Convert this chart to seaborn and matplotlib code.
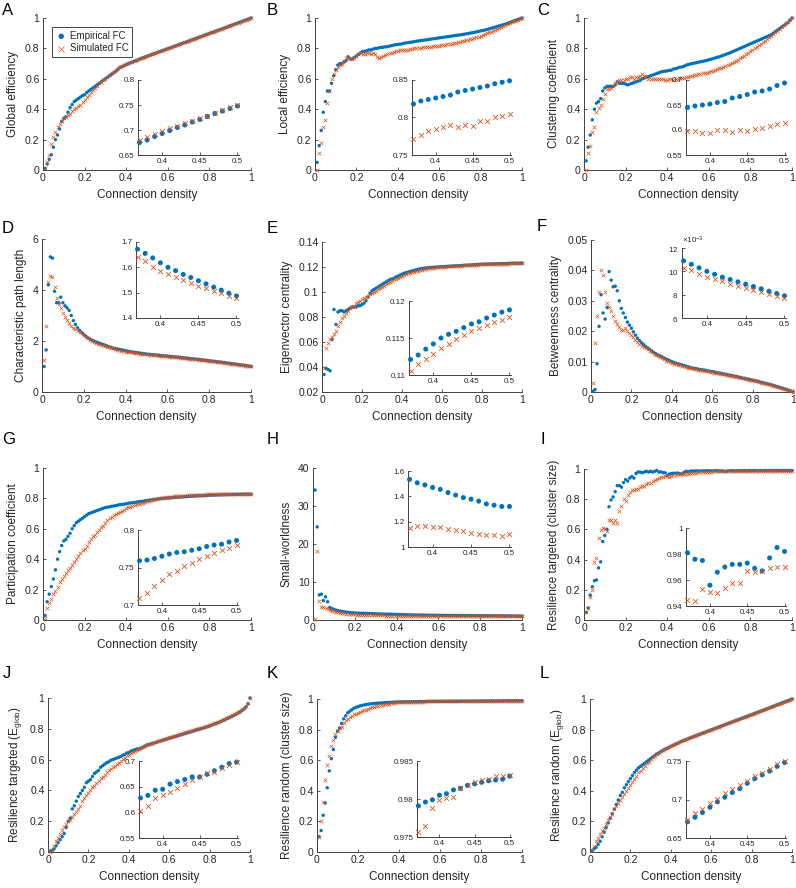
import numpy as np
import seaborn as sns
import matplotlib.pyplot as plt
from matplotlib.ticker import FuncFormatter, ScalarFormatter

sns.set_style('ticks')
plt.rcParams['font.family'] = ['Liberation Sans', 'DejaVu Sans']
plt.rcParams['mathtext.default'] = 'regular'

# connection density grid (0.01 ... 1.00)
density = np.arange(1, 101) / 100

# A - global efficiency
glob_eff_emp = [
    0.01, 0.04, 0.07, 0.10, 0.15, 0.20, 0.23, 0.27, 0.32, 0.34,
    0.35, 0.38, 0.41, 0.43, 0.45, 0.46, 0.47, 0.48, 0.49, 0.495,
    0.51, 0.52, 0.53, 0.54, 0.55, 0.56, 0.57, 0.58, 0.59, 0.60,
    0.61, 0.62, 0.63, 0.64, 0.65, 0.662, 0.675, 0.680, 0.687, 0.693,
    0.699, 0.705, 0.710, 0.716, 0.721, 0.727, 0.733, 0.738, 0.743, 0.748,
    0.753, 0.758, 0.763, 0.768, 0.773, 0.778, 0.783, 0.788, 0.793, 0.798,
    0.803, 0.808, 0.813, 0.818, 0.823, 0.828, 0.833, 0.838, 0.843, 0.848,
    0.853, 0.858, 0.863, 0.868, 0.873, 0.878, 0.883, 0.888, 0.893, 0.898,
    0.903, 0.908, 0.913, 0.918, 0.923, 0.928, 0.933, 0.938, 0.943, 0.949,
    0.954, 0.959, 0.964, 0.969, 0.974, 0.979, 0.984, 0.989, 0.994, 1.000]
glob_eff_sim = [
    0.01, 0.05, 0.10, 0.17, 0.22, 0.25, 0.28, 0.30, 0.32, 0.34,
    0.35, 0.36, 0.37, 0.39, 0.40, 0.41, 0.42, 0.43, 0.445, 0.46,
    0.48, 0.495, 0.51, 0.525, 0.54, 0.555, 0.57, 0.58, 0.59, 0.60,
    0.612, 0.624, 0.636, 0.648, 0.658, 0.668, 0.680, 0.686, 0.692, 0.698,
    0.703, 0.708, 0.713, 0.718, 0.723, 0.728, 0.734, 0.740, 0.745, 0.750,
    0.755, 0.760, 0.765, 0.770, 0.775, 0.780, 0.785, 0.790, 0.795, 0.800,
    0.805, 0.810, 0.815, 0.820, 0.825, 0.830, 0.835, 0.840, 0.845, 0.850,
    0.855, 0.860, 0.865, 0.870, 0.875, 0.880, 0.885, 0.890, 0.895, 0.900,
    0.905, 0.910, 0.915, 0.920, 0.925, 0.930, 0.935, 0.940, 0.945, 0.950,
    0.955, 0.960, 0.965, 0.970, 0.975, 0.980, 0.985, 0.990, 0.995, 1.000]

# B - local efficiency
loc_eff_emp = [
    0.05, 0.16, 0.26, 0.38, 0.45, 0.52, 0.52, 0.57, 0.62, 0.66,
    0.69, 0.70, 0.70, 0.71, 0.72, 0.745, 0.73, 0.73, 0.74, 0.75,
    0.76, 0.77, 0.78, 0.78, 0.785, 0.79, 0.79, 0.795, 0.80, 0.80,
    0.805, 0.806, 0.808, 0.810, 0.812, 0.815, 0.818, 0.822, 0.824, 0.826,
    0.828, 0.830, 0.834, 0.836, 0.838, 0.840, 0.842, 0.845, 0.847, 0.849,
    0.851, 0.853, 0.855, 0.857, 0.859, 0.861, 0.863, 0.865, 0.867, 0.869,
    0.871, 0.873, 0.875, 0.877, 0.879, 0.881, 0.883, 0.885, 0.887, 0.889,
    0.891, 0.893, 0.896, 0.898, 0.901, 0.903, 0.906, 0.909, 0.912, 0.915,
    0.918, 0.921, 0.924, 0.928, 0.932, 0.936, 0.940, 0.944, 0.948, 0.952,
    0.956, 0.960, 0.965, 0.970, 0.975, 0.980, 0.985, 0.990, 0.995, 1.000]
loc_eff_sim = [
    0.00, 0.11, 0.18, 0.28, 0.33, 0.44, 0.52, 0.60, 0.63, 0.66,
    0.68, 0.69, 0.70, 0.72, 0.74, 0.74, 0.74, 0.73, 0.74, 0.75,
    0.76, 0.77, 0.76, 0.76, 0.77, 0.77, 0.76, 0.77, 0.76, 0.745,
    0.74, 0.745, 0.75, 0.758, 0.762, 0.767, 0.771, 0.776, 0.782, 0.785,
    0.787, 0.790, 0.787, 0.790, 0.789, 0.795, 0.795, 0.800, 0.802, 0.804,
    0.805, 0.806, 0.808, 0.809, 0.811, 0.812, 0.814, 0.815, 0.817, 0.819,
    0.821, 0.823, 0.825, 0.827, 0.829, 0.832, 0.835, 0.838, 0.841, 0.844,
    0.847, 0.850, 0.853, 0.857, 0.861, 0.865, 0.869, 0.873, 0.877, 0.881,
    0.887, 0.893, 0.899, 0.905, 0.911, 0.917, 0.923, 0.929, 0.935, 0.941,
    0.947, 0.953, 0.959, 0.965, 0.971, 0.977, 0.983, 0.989, 0.995, 1.000]

# C - clustering coefficient
clust_emp = [
    0.06, 0.15, 0.23, 0.33, 0.40, 0.44, 0.45, 0.47, 0.52, 0.54,
    0.55, 0.55, 0.55, 0.55, 0.56, 0.58, 0.57, 0.57, 0.57, 0.565,
    0.56, 0.565, 0.57, 0.575, 0.58, 0.585, 0.59, 0.60, 0.605, 0.61,
    0.615, 0.62, 0.625, 0.63, 0.635, 0.64, 0.645, 0.648, 0.650, 0.652,
    0.655, 0.657, 0.664, 0.667, 0.671, 0.676, 0.678, 0.682, 0.689, 0.694,
    0.697, 0.700, 0.703, 0.706, 0.709, 0.712, 0.715, 0.718, 0.721, 0.725,
    0.729, 0.733, 0.737, 0.741, 0.745, 0.750, 0.755, 0.760, 0.765, 0.770,
    0.776, 0.782, 0.788, 0.794, 0.800, 0.806, 0.812, 0.818, 0.824, 0.830,
    0.836, 0.842, 0.848, 0.854, 0.860, 0.866, 0.872, 0.878, 0.884, 0.890,
    0.900, 0.910, 0.920, 0.930, 0.940, 0.950, 0.960, 0.970, 0.985, 1.000]
clust_sim = [
    0.00, 0.11, 0.16, 0.25, 0.28, 0.38, 0.41, 0.43, 0.47, 0.50,
    0.53, 0.53, 0.54, 0.55, 0.57, 0.58, 0.59, 0.59, 0.59, 0.60,
    0.60, 0.61, 0.61, 0.60, 0.61, 0.61, 0.62, 0.63, 0.62, 0.61,
    0.60, 0.60, 0.60, 0.60, 0.60, 0.60, 0.597, 0.598, 0.594, 0.594,
    0.599, 0.600, 0.595, 0.600, 0.598, 0.602, 0.604, 0.608, 0.611, 0.614,
    0.617, 0.620, 0.623, 0.626, 0.629, 0.632, 0.635, 0.638, 0.641, 0.645,
    0.649, 0.653, 0.658, 0.663, 0.668, 0.673, 0.678, 0.684, 0.690, 0.696,
    0.703, 0.710, 0.718, 0.726, 0.734, 0.742, 0.750, 0.760, 0.770, 0.780,
    0.790, 0.800, 0.810, 0.820, 0.830, 0.840, 0.851, 0.862, 0.873, 0.884,
    0.895, 0.906, 0.917, 0.928, 0.940, 0.952, 0.964, 0.976, 0.988, 1.000]

# D - characteristic path length
path_emp = [
    1.00, 1.65, 4.20, 5.30, 5.25, 3.95, 3.50, 3.50, 3.72, 3.50,
    3.38, 3.30, 3.20, 3.00, 2.80, 2.65, 2.52, 2.42, 2.33, 2.25,
    2.18, 2.12, 2.07, 2.03, 1.99, 1.96, 1.93, 1.90, 1.87, 1.84,
    1.81, 1.78, 1.75, 1.72, 1.70, 1.69, 1.672, 1.655, 1.637, 1.618,
    1.600, 1.587, 1.572, 1.560, 1.547, 1.535, 1.522, 1.510, 1.498, 1.487,
    1.478, 1.470, 1.462, 1.454, 1.446, 1.438, 1.430, 1.422, 1.414, 1.406,
    1.398, 1.390, 1.382, 1.374, 1.365, 1.356, 1.347, 1.338, 1.329, 1.320,
    1.311, 1.302, 1.293, 1.284, 1.275, 1.265, 1.255, 1.245, 1.235, 1.225,
    1.215, 1.205, 1.195, 1.185, 1.175, 1.164, 1.153, 1.142, 1.131, 1.120,
    1.109, 1.098, 1.087, 1.076, 1.065, 1.054, 1.043, 1.032, 1.016, 1.000]
path_sim = [
    1.25, 2.60, 4.30, 4.55, 4.50, 4.10, 3.70, 3.45, 3.30, 3.10,
    2.95, 2.82, 2.70, 2.60, 2.52, 2.46, 2.40, 2.35, 2.30, 2.24,
    2.16, 2.10, 2.04, 1.99, 1.95, 1.92, 1.89, 1.86, 1.83, 1.80,
    1.77, 1.75, 1.73, 1.71, 1.68, 1.66, 1.640, 1.624, 1.603, 1.587,
    1.574, 1.562, 1.550, 1.540, 1.528, 1.518, 1.507, 1.497, 1.487, 1.478,
    1.470, 1.462, 1.454, 1.446, 1.438, 1.430, 1.422, 1.414, 1.406, 1.398,
    1.390, 1.382, 1.374, 1.366, 1.358, 1.349, 1.340, 1.331, 1.322, 1.313,
    1.304, 1.295, 1.286, 1.277, 1.268, 1.258, 1.248, 1.238, 1.228, 1.218,
    1.208, 1.198, 1.188, 1.178, 1.168, 1.158, 1.147, 1.136, 1.125, 1.114,
    1.103, 1.092, 1.081, 1.070, 1.059, 1.048, 1.037, 1.026, 1.013, 1.000]

# E - eigenvector centrality
eig_emp = [
    0.034, 0.039, 0.038, 0.037, 0.062, 0.086, 0.074, 0.084, 0.085, 0.085,
    0.084, 0.085, 0.086, 0.087, 0.088, 0.088, 0.088, 0.089, 0.089, 0.090,
    0.091, 0.093, 0.096, 0.099, 0.101, 0.102, 0.103, 0.104, 0.105, 0.106,
    0.107, 0.108, 0.109, 0.110, 0.1105, 0.111, 0.1121, 0.1127, 0.1135, 0.1142,
    0.1150, 0.1155, 0.1159, 0.1164, 0.1169, 0.1172, 0.1177, 0.1181, 0.1185, 0.1188,
    0.1190, 0.1192, 0.1194, 0.1196, 0.1197, 0.1198, 0.1199, 0.1200, 0.1201, 0.1202,
    0.1203, 0.1204, 0.1205, 0.1206, 0.1207, 0.1208, 0.1209, 0.1210, 0.1211, 0.1212,
    0.1213, 0.1214, 0.1215, 0.1216, 0.1217, 0.1218, 0.1219, 0.1220, 0.1221, 0.1222,
    0.1222, 0.1223, 0.1223, 0.1224, 0.1224, 0.1225, 0.1225, 0.1226, 0.1226, 0.1227,
    0.1227, 0.1228, 0.1228, 0.1229, 0.1229, 0.1230, 0.1230, 0.1230, 0.1231, 0.1231]
eig_sim = [
    0.039, 0.055, 0.059, 0.062, 0.064, 0.066, 0.069, 0.073, 0.076, 0.079,
    0.081, 0.083, 0.085, 0.087, 0.088, 0.089, 0.091, 0.092, 0.093, 0.094,
    0.095, 0.096, 0.097, 0.098, 0.099, 0.100, 0.101, 0.102, 0.103, 0.104,
    0.105, 0.106, 0.107, 0.108, 0.109, 0.110, 0.1106, 0.1115, 0.1122, 0.1129,
    0.1137, 0.1142, 0.1148, 0.1154, 0.1159, 0.1163, 0.1167, 0.1171, 0.1175, 0.1179,
    0.1183, 0.1186, 0.1189, 0.1191, 0.1193, 0.1195, 0.1197, 0.1198, 0.1199, 0.1200,
    0.1202, 0.1203, 0.1204, 0.1205, 0.1206, 0.1207, 0.1208, 0.1209, 0.1210, 0.1211,
    0.1212, 0.1213, 0.1214, 0.1215, 0.1216, 0.1217, 0.1218, 0.1219, 0.1220, 0.1221,
    0.1221, 0.1222, 0.1222, 0.1223, 0.1223, 0.1224, 0.1224, 0.1225, 0.1225, 0.1226,
    0.1226, 0.1227, 0.1227, 0.1228, 0.1228, 0.1229, 0.1229, 0.1230, 0.1230, 0.1231]

# F - betweenness centrality
betw_emp = [
    0.0002, 0.0008, 0.0093, 0.0216, 0.0320, 0.0260, 0.0240, 0.0278, 0.0396, 0.0368,
    0.0346, 0.0348, 0.0333, 0.0300, 0.0275, 0.0260, 0.0245, 0.0230, 0.0220, 0.0210,
    0.0198, 0.0187, 0.0177, 0.0169, 0.0162, 0.0156, 0.0150, 0.0145, 0.0140, 0.0135,
    0.0130, 0.0126, 0.0122, 0.0119, 0.0116, 0.0112, 0.0109, 0.0106, 0.0103, 0.0100,
    0.00975, 0.0095, 0.0093, 0.0091, 0.0089, 0.0087, 0.0085, 0.0083, 0.0081, 0.0079,
    0.0078, 0.0077, 0.0075, 0.0074, 0.0073, 0.0072, 0.0071, 0.0069, 0.0068, 0.0067,
    0.0066, 0.0064, 0.0063, 0.0062, 0.0060, 0.0059, 0.0058, 0.0056, 0.0055, 0.0054,
    0.0052, 0.0051, 0.0049, 0.0048, 0.0046, 0.0045, 0.0043, 0.0042, 0.0040, 0.0039,
    0.0037, 0.0036, 0.0034, 0.0032, 0.0031, 0.0029, 0.0027, 0.0026, 0.0024, 0.0022,
    0.0020, 0.0018, 0.0016, 0.0014, 0.0012, 0.0010, 0.0008, 0.0005, 0.0003, 0.0000]
betw_sim = [
    0.0030, 0.0160, 0.0250, 0.0330, 0.0402, 0.0385, 0.0330, 0.0292, 0.0280, 0.0268,
    0.0250, 0.0235, 0.0225, 0.0215, 0.0205, 0.0205, 0.0210, 0.0200, 0.0195, 0.0188,
    0.0180, 0.0172, 0.0164, 0.0157, 0.0151, 0.0147, 0.0144, 0.0140, 0.0135, 0.0130,
    0.0125, 0.0121, 0.0117, 0.0114, 0.0111, 0.0107, 0.0103, 0.0101, 0.0098, 0.00955,
    0.00935, 0.00915, 0.00895, 0.00875, 0.00855, 0.0084, 0.0082, 0.00805, 0.0079, 0.00775,
    0.0076, 0.0075, 0.0074, 0.0072, 0.0071, 0.0070, 0.0069, 0.0068, 0.0067, 0.0065,
    0.0064, 0.0063, 0.0062, 0.0060, 0.0059, 0.0058, 0.0056, 0.0055, 0.0054, 0.0052,
    0.0051, 0.0050, 0.0048, 0.0047, 0.0045, 0.0044, 0.0042, 0.0041, 0.0039, 0.0038,
    0.0036, 0.0035, 0.0033, 0.0031, 0.0030, 0.0028, 0.0026, 0.0025, 0.0023, 0.0021,
    0.0019, 0.0017, 0.0015, 0.0013, 0.0011, 0.0009, 0.0007, 0.0005, 0.0003, 0.0000]

# G - participation coefficient
part_emp = [
    0.03, 0.12, 0.17, 0.22, 0.27, 0.33, 0.40, 0.45, 0.49, 0.52,
    0.53, 0.55, 0.57, 0.60, 0.62, 0.64, 0.65, 0.66, 0.67, 0.68,
    0.69, 0.70, 0.705, 0.71, 0.715, 0.72, 0.725, 0.73, 0.735, 0.74,
    0.742, 0.745, 0.748, 0.750, 0.753, 0.756, 0.759, 0.760, 0.762, 0.765,
    0.768, 0.770, 0.771, 0.773, 0.775, 0.778, 0.780, 0.781, 0.784, 0.786,
    0.788, 0.790, 0.792, 0.794, 0.796, 0.798, 0.800, 0.801, 0.802, 0.803,
    0.804, 0.805, 0.806, 0.807, 0.808, 0.809, 0.810, 0.811, 0.812, 0.813,
    0.814, 0.815, 0.816, 0.817, 0.818, 0.818, 0.819, 0.820, 0.820, 0.821,
    0.821, 0.822, 0.822, 0.823, 0.823, 0.824, 0.824, 0.825, 0.825, 0.826,
    0.826, 0.826, 0.827, 0.827, 0.827, 0.828, 0.828, 0.828, 0.828, 0.828]
part_sim = [
    0.01, 0.08, 0.11, 0.14, 0.17, 0.19, 0.22, 0.25, 0.27, 0.29,
    0.31, 0.33, 0.34, 0.36, 0.38, 0.40, 0.42, 0.44, 0.46, 0.47,
    0.49, 0.51, 0.53, 0.55, 0.56, 0.58, 0.59, 0.61, 0.62, 0.64,
    0.66, 0.67, 0.68, 0.69, 0.70, 0.705, 0.709, 0.716, 0.726, 0.734,
    0.741, 0.746, 0.752, 0.756, 0.761, 0.766, 0.770, 0.773, 0.776, 0.780,
    0.784, 0.788, 0.792, 0.795, 0.798, 0.801, 0.803, 0.805, 0.807, 0.809,
    0.811, 0.812, 0.814, 0.815, 0.816, 0.817, 0.818, 0.819, 0.820, 0.821,
    0.822, 0.822, 0.823, 0.823, 0.824, 0.824, 0.825, 0.825, 0.826, 0.826,
    0.826, 0.827, 0.827, 0.827, 0.827, 0.828, 0.828, 0.828, 0.828, 0.828,
    0.828, 0.828, 0.828, 0.828, 0.828, 0.828, 0.828, 0.828, 0.828, 0.828]

# H - small-worldness
sw_emp = [
    34.2, 24.5, 6.6, 6.8, 5.1, 6.1, 4.8, 3.3, 3.0, 2.8,
    2.6, 2.45, 2.35, 2.25, 2.15, 2.07, 2.0, 1.95, 1.9, 1.86,
    1.83, 1.80, 1.78, 1.76, 1.74, 1.72, 1.70, 1.68, 1.66, 1.64,
    1.62, 1.60, 1.58, 1.565, 1.55, 1.54, 1.534, 1.507, 1.49, 1.47,
    1.455, 1.43, 1.41, 1.39, 1.378, 1.362, 1.34, 1.33, 1.32, 1.32,
    1.31, 1.30, 1.29, 1.28, 1.27, 1.26, 1.25, 1.24, 1.235, 1.23,
    1.225, 1.22, 1.215, 1.21, 1.205, 1.20, 1.195, 1.19, 1.185, 1.18,
    1.175, 1.17, 1.165, 1.16, 1.155, 1.15, 1.145, 1.14, 1.135, 1.13,
    1.125, 1.12, 1.115, 1.11, 1.105, 1.10, 1.095, 1.09, 1.085, 1.08,
    1.075, 1.07, 1.065, 1.06, 1.055, 1.05, 1.04, 1.03, 1.02, 1.00]
sw_sim = [
    0.2, 18.2, 5.1, 3.5, 3.3, 3.2, 3.0, 2.7, 2.5, 2.3,
    2.15, 2.0, 1.9, 1.8, 1.72, 1.65, 1.6, 1.55, 1.5, 1.46,
    1.43, 1.40, 1.38, 1.36, 1.34, 1.32, 1.30, 1.28, 1.26, 1.24,
    1.22, 1.21, 1.20, 1.19, 1.18, 1.17, 1.153, 1.164, 1.164, 1.158,
    1.158, 1.143, 1.132, 1.124, 1.114, 1.103, 1.093, 1.093, 1.090, 1.103,
    1.09, 1.085, 1.08, 1.08, 1.075, 1.07, 1.07, 1.065, 1.06, 1.06,
    1.055, 1.055, 1.05, 1.05, 1.045, 1.045, 1.04, 1.04, 1.04, 1.035,
    1.035, 1.03, 1.03, 1.03, 1.025, 1.025, 1.025, 1.02, 1.02, 1.02,
    1.02, 1.015, 1.015, 1.015, 1.01, 1.01, 1.01, 1.01, 1.005, 1.005,
    1.005, 1.005, 1.0, 1.0, 1.0, 1.0, 1.0, 1.0, 1.0, 1.0]

# I - resilience targeted (cluster size)
res_targ_cs_emp = [
    0.05, 0.08, 0.165, 0.22, 0.26, 0.265, 0.345, 0.385, 0.52, 0.56,
    0.60, 0.75, 0.795, 0.815, 0.85, 0.89, 0.89, 0.88, 0.91, 0.93,
    0.92, 0.94, 0.95, 0.94, 0.97, 0.98, 0.98, 0.975, 0.98, 0.985,
    0.98, 0.985, 0.98, 0.985, 0.99, 0.98, 0.981, 0.976, 0.975, 0.956,
    0.966, 0.970, 0.972, 0.972, 0.973, 0.969, 0.967, 0.977, 0.985, 0.982,
    0.985, 0.987, 0.986, 0.988, 0.987, 0.986, 0.988, 0.987, 0.989, 0.988,
    0.988, 0.987, 0.989, 0.988, 0.987, 0.988, 0.986, 0.983, 0.987, 0.988,
    0.989, 0.988, 0.987, 0.989, 0.988, 0.989, 0.990, 0.988, 0.989, 0.990,
    0.989, 0.990, 0.988, 0.989, 0.990, 0.989, 0.990, 0.989, 0.990, 0.990,
    0.989, 0.990, 0.990, 0.989, 0.990, 0.990, 0.990, 0.990, 0.990, 0.990]
res_targ_cs_sim = [
    0.055, 0.08, 0.15, 0.20, 0.385, 0.41, 0.545, 0.595, 0.61, 0.60,
    0.59, 0.66, 0.66, 0.645, 0.665, 0.64, 0.72, 0.755, 0.80, 0.79,
    0.83, 0.85, 0.86, 0.86, 0.87, 0.87, 0.88, 0.89, 0.89, 0.90,
    0.91, 0.91, 0.92, 0.93, 0.935, 0.94, 0.945, 0.944, 0.953, 0.951,
    0.950, 0.954, 0.958, 0.958, 0.967, 0.966, 0.967, 0.969, 0.970, 0.970,
    0.972, 0.974, 0.975, 0.976, 0.977, 0.978, 0.979, 0.980, 0.981, 0.982,
    0.983, 0.984, 0.984, 0.985, 0.985, 0.986, 0.986, 0.987, 0.987, 0.988,
    0.988, 0.988, 0.989, 0.989, 0.989, 0.990, 0.990, 0.990, 0.990, 0.990,
    0.990, 0.990, 0.990, 0.990, 0.990, 0.990, 0.990, 0.990, 0.990, 0.990,
    0.990, 0.990, 0.990, 0.990, 0.990, 0.990, 0.990, 0.990, 0.990, 0.990]

# J - resilience targeted (E_glob)
res_targ_eg_emp = [
    0.005, 0.01, 0.02, 0.04, 0.06, 0.08, 0.10, 0.12, 0.16, 0.20,
    0.22, 0.28, 0.30, 0.33, 0.36, 0.38, 0.40, 0.42, 0.45, 0.46,
    0.47, 0.49, 0.51, 0.52, 0.53, 0.55, 0.56, 0.57, 0.58, 0.585,
    0.595, 0.60, 0.605, 0.61, 0.615, 0.62, 0.628, 0.633, 0.643, 0.645,
    0.655, 0.660, 0.664, 0.669, 0.669, 0.674, 0.681, 0.688, 0.695, 0.698,
    0.702, 0.706, 0.710, 0.714, 0.718, 0.722, 0.726, 0.730, 0.734, 0.738,
    0.742, 0.746, 0.750, 0.754, 0.758, 0.762, 0.766, 0.770, 0.774, 0.778,
    0.782, 0.786, 0.790, 0.794, 0.798, 0.802, 0.806, 0.810, 0.814, 0.819,
    0.824, 0.829, 0.834, 0.839, 0.844, 0.850, 0.856, 0.862, 0.868, 0.874,
    0.880, 0.887, 0.894, 0.902, 0.910, 0.919, 0.929, 0.942, 0.962, 1.000]
res_targ_eg_sim = [
    0.00, 0.01, 0.04, 0.07, 0.09, 0.12, 0.14, 0.16, 0.18, 0.20,
    0.21, 0.23, 0.25, 0.26, 0.28, 0.30, 0.33, 0.35, 0.37, 0.38,
    0.40, 0.42, 0.43, 0.45, 0.46, 0.48, 0.49, 0.50, 0.52, 0.53,
    0.54, 0.55, 0.56, 0.57, 0.58, 0.59, 0.603, 0.612, 0.627, 0.633,
    0.640, 0.647, 0.656, 0.663, 0.669, 0.677, 0.679, 0.686, 0.693, 0.699,
    0.704, 0.709, 0.714, 0.719, 0.724, 0.728, 0.732, 0.736, 0.740, 0.744,
    0.748, 0.752, 0.756, 0.760, 0.764, 0.768, 0.772, 0.776, 0.780, 0.784,
    0.788, 0.792, 0.796, 0.800, 0.804, 0.808, 0.812, 0.816, 0.820, 0.825,
    0.830, 0.835, 0.840, 0.845, 0.850, 0.856, 0.862, 0.868, 0.874, 0.880,
    0.887, 0.894, 0.901, 0.909, 0.917, 0.926, 0.936, 0.948, 0.966, 1.000]

# K - resilience random (cluster size)
res_rand_cs_emp = [
    0.10, 0.14, 0.24, 0.32, 0.42, 0.53, 0.61, 0.67, 0.75, 0.79,
    0.81, 0.84, 0.87, 0.89, 0.91, 0.92, 0.93, 0.94, 0.945, 0.95,
    0.955, 0.958, 0.961, 0.964, 0.966, 0.968, 0.970, 0.971, 0.972, 0.973,
    0.974, 0.975, 0.976, 0.977, 0.977, 0.978, 0.9791, 0.9796, 0.9799, 0.9805,
    0.9807, 0.9812, 0.9814, 0.9818, 0.9820, 0.9822, 0.9824, 0.9825, 0.9826, 0.9830,
    0.9832, 0.9834, 0.9836, 0.9838, 0.9840, 0.9842, 0.9843, 0.9844, 0.9845, 0.9846,
    0.9847, 0.9848, 0.9849, 0.9850, 0.9851, 0.9852, 0.9853, 0.9854, 0.9855, 0.9856,
    0.9857, 0.9858, 0.9859, 0.9860, 0.9861, 0.9862, 0.9863, 0.9864, 0.9865, 0.9866,
    0.9867, 0.9868, 0.9869, 0.9870, 0.9871, 0.9872, 0.9873, 0.9874, 0.9875, 0.9876,
    0.9877, 0.9878, 0.9879, 0.9880, 0.9881, 0.9882, 0.9883, 0.9884, 0.9885, 0.9886]
res_rand_cs_sim = [
    0.10, 0.205, 0.33, 0.47, 0.57, 0.63, 0.69, 0.73, 0.77, 0.79,
    0.81, 0.82, 0.84, 0.86, 0.87, 0.88, 0.89, 0.90, 0.905, 0.91,
    0.915, 0.92, 0.925, 0.93, 0.935, 0.94, 0.945, 0.95, 0.953, 0.956,
    0.959, 0.962, 0.965, 0.967, 0.969, 0.971, 0.9756, 0.9765, 0.9788, 0.9799,
    0.9801, 0.9803, 0.9814, 0.9819, 0.9822, 0.9825, 0.9826, 0.9830, 0.9830, 0.9831,
    0.9833, 0.9835, 0.9837, 0.9839, 0.9841, 0.9842, 0.9843, 0.9845, 0.9846, 0.9847,
    0.9848, 0.9849, 0.9850, 0.9851, 0.9852, 0.9853, 0.9854, 0.9855, 0.9856, 0.9857,
    0.9858, 0.9859, 0.9860, 0.9861, 0.9862, 0.9863, 0.9864, 0.9865, 0.9866, 0.9867,
    0.9868, 0.9869, 0.9870, 0.9871, 0.9872, 0.9873, 0.9874, 0.9875, 0.9876, 0.9877,
    0.9878, 0.9879, 0.9880, 0.9881, 0.9882, 0.9883, 0.9884, 0.9885, 0.9886, 0.9887]

# L - resilience random (E_glob)
res_rand_eg_emp = [
    0.005, 0.02, 0.03, 0.05, 0.07, 0.10, 0.13, 0.16, 0.19, 0.22,
    0.25, 0.28, 0.31, 0.34, 0.37, 0.39, 0.42, 0.44, 0.46, 0.48,
    0.50, 0.52, 0.535, 0.55, 0.56, 0.57, 0.58, 0.59, 0.60, 0.61,
    0.62, 0.63, 0.64, 0.647, 0.655, 0.663, 0.671, 0.677, 0.683, 0.690,
    0.697, 0.703, 0.709, 0.714, 0.721, 0.727, 0.732, 0.737, 0.743, 0.748,
    0.753, 0.758, 0.763, 0.768, 0.773, 0.778, 0.783, 0.788, 0.793, 0.798,
    0.803, 0.808, 0.813, 0.818, 0.823, 0.828, 0.833, 0.838, 0.843, 0.848,
    0.853, 0.858, 0.863, 0.868, 0.873, 0.878, 0.883, 0.888, 0.893, 0.898,
    0.903, 0.908, 0.913, 0.918, 0.923, 0.928, 0.933, 0.938, 0.943, 0.949,
    0.954, 0.959, 0.964, 0.969, 0.974, 0.979, 0.984, 0.989, 0.994, 1.000]
res_rand_eg_sim = [
    0.01, 0.04, 0.07, 0.09, 0.12, 0.14, 0.16, 0.18, 0.21, 0.23,
    0.25, 0.28, 0.30, 0.32, 0.34, 0.36, 0.38, 0.40, 0.42, 0.44,
    0.46, 0.48, 0.50, 0.52, 0.53, 0.55, 0.56, 0.58, 0.59, 0.61,
    0.62, 0.63, 0.64, 0.65, 0.66, 0.668, 0.674, 0.683, 0.688, 0.696,
    0.701, 0.708, 0.713, 0.719, 0.724, 0.730, 0.734, 0.740, 0.746, 0.750,
    0.755, 0.760, 0.765, 0.770, 0.775, 0.780, 0.785, 0.790, 0.795, 0.800,
    0.805, 0.810, 0.815, 0.820, 0.825, 0.830, 0.835, 0.840, 0.845, 0.850,
    0.855, 0.860, 0.865, 0.870, 0.875, 0.880, 0.885, 0.890, 0.895, 0.900,
    0.905, 0.910, 0.915, 0.920, 0.925, 0.930, 0.935, 0.940, 0.945, 0.950,
    0.955, 0.960, 0.965, 0.970, 0.975, 0.980, 0.985, 0.990, 0.995, 1.000]

panels = [
    ('A', 'Global efficiency', glob_eff_emp, glob_eff_sim, (0, 1), [0, .2, .4, .6, .8, 1], (0.65, 0.8), [0.65, 0.7, 0.75, 0.8]),
    ('B', 'Local efficiency', loc_eff_emp, loc_eff_sim, (0, 1), [0, .2, .4, .6, .8, 1], (0.75, 0.85), [0.75, 0.8, 0.85]),
    ('C', 'Clustering coefficient', clust_emp, clust_sim, (0, 1), [0, .2, .4, .6, .8, 1], (0.55, 0.7), [0.55, 0.6, 0.65, 0.7]),
    ('D', 'Characteristic path length', path_emp, path_sim, (0, 6), [0, 2, 4, 6], (1.4, 1.7), [1.4, 1.5, 1.6, 1.7]),
    ('E', 'Eigenvector centrality', eig_emp, eig_sim, (0.02, 0.14), [0.02, 0.04, 0.06, 0.08, 0.1, 0.12, 0.14], (0.11, 0.12), [0.11, 0.115, 0.12]),
    ('F', 'Betweenness centrality', betw_emp, betw_sim, (0, 0.05), [0, 0.01, 0.02, 0.03, 0.04, 0.05], (0.006, 0.012), [0.006, 0.008, 0.010, 0.012]),
    ('G', 'Participation coefficient', part_emp, part_sim, (0, 1), [0, .2, .4, .6, .8, 1], (0.7, 0.8), [0.7, 0.75, 0.8]),
    ('H', 'Small-worldness', sw_emp, sw_sim, (0, 40), [0, 10, 20, 30, 40], (1.0, 1.6), [1, 1.2, 1.4, 1.6]),
    ('I', 'Resilience targeted (cluster size)', res_targ_cs_emp, res_targ_cs_sim, (0, 1), [0, .2, .4, .6, .8, 1], (0.94, 1.0), [0.94, 0.96, 0.98, 1]),
    ('J', 'Resilience targeted (E$_{glob}$)', res_targ_eg_emp, res_targ_eg_sim, (0, 1), [0, .2, .4, .6, .8, 1], (0.55, 0.7), [0.55, 0.6, 0.65, 0.7]),
    ('K', 'Resilience random (cluster size)', res_rand_cs_emp, res_rand_cs_sim, (0, 1), [0, .2, .4, .6, .8, 1], (0.975, 0.985), [0.975, 0.98, 0.985]),
    ('L', 'Resilience random (E$_{glob}$)', res_rand_eg_emp, res_rand_eg_sim, (0, 1), [0, .2, .4, .6, .8, 1], (0.65, 0.75), [0.65, 0.7, 0.75]),
]

# layout in pixels: (left, top, right, bottom)
main_boxes = {
    'A': (43, 18, 251, 170), 'B': (315, 18, 522, 170), 'C': (584, 18, 792, 170),
    'D': (42, 239, 251, 392), 'E': (322, 242, 522, 392), 'F': (591, 240, 793, 392),
    'G': (43, 468, 251, 620), 'H': (313, 468, 522, 620), 'I': (584, 469, 792, 620),
    'J': (48, 698, 250, 852), 'K': (317, 699, 522, 852), 'L': (590, 699, 792, 852),
}
inset_boxes = {
    'A': (138, 80, 239, 155), 'B': (412, 80, 511, 155), 'C': (686, 80, 786, 155),
    'D': (136, 242, 238, 318), 'E': (409, 301, 511, 375), 'F': (682, 248, 786, 318),
    'G': (138, 530, 238, 605), 'H': (408, 471, 511, 547), 'I': (686, 528, 786, 606),
    'J': (139, 761, 238, 838), 'K': (417, 761, 511, 837), 'L': (686, 761, 786, 838),
}
letter_pos = {
    'A': (2, 3), 'B': (267, 3), 'C': (537, 3),
    'D': (2, 221), 'E': (267, 221), 'F': (537, 219),
    'G': (2, 432), 'H': (267, 432), 'I': (540, 432),
    'J': (3, 666), 'K': (267, 666), 'L': (540, 666),
}

W, H = 796, 888
blue = '#0072BD'
orange = '#D95319'
axcol = '#404040'
fmt = FuncFormatter(lambda v, p: f'{v:g}')


def frac(box):
    l, t, r, b = box
    return [l / W, 1 - b / H, (r - l) / W, (b - t) / H]


def style(ax, size):
    sns.despine(ax=ax)
    for sp in ['left', 'bottom']:
        ax.spines[sp].set_color(axcol)
        ax.spines[sp].set_linewidth(0.7)
    ax.tick_params(direction='in', length=2.5, width=0.6, colors=axcol,
                   labelsize=size, pad=2.5, labelcolor='#262626')


fig = plt.figure(figsize=(W / 100, H / 100), dpi=100)
inset_x = density[36:50]

for letter, ylabel, emp, sim, ylim, yticks, in_ylim, in_yticks in panels:
    ax = fig.add_axes(frac(main_boxes[letter]))
    sns.scatterplot(x=density, y=emp, ax=ax, marker='o', s=6, color=blue,
                    edgecolor='none', label='Empirical FC', legend=False, clip_on=False, zorder=3)
    sns.scatterplot(x=density, y=sim, ax=ax, marker='x', s=7, color=orange,
                    linewidth=0.5, label='Simulated FC', legend=False, clip_on=False, zorder=4)
    ax.set_xlim(0, 1)
    ax.set_ylim(*ylim)
    ax.set_xticks([0, 0.2, 0.4, 0.6, 0.8, 1])
    ax.set_yticks(yticks)
    ax.xaxis.set_major_formatter(fmt)
    ax.yaxis.set_major_formatter(fmt)
    style(ax, 7.5)
    ax.set_xlabel('Connection density', fontsize=8.5, color='#262626', labelpad=4)
    ax.set_ylabel(ylabel, fontsize=8.5, color='#262626', labelpad=4)
    if letter == 'A':
        leg = ax.legend(loc='upper left', bbox_to_anchor=(0.02, 0.97), fontsize=7,
                        frameon=True, fancybox=False, framealpha=1, edgecolor='#262626',
                        borderpad=0.35, handletextpad=0.3, labelspacing=0.25,
                        handlelength=1.2, markerscale=1.6)
        leg.get_frame().set_linewidth(0.6)

    ins = fig.add_axes(frac(inset_boxes[letter]))
    ins.patch.set_alpha(0)
    sns.scatterplot(x=inset_x, y=emp[36:50], ax=ins, marker='o', s=13, color=blue,
                    edgecolor='none', legend=False, clip_on=False, zorder=3)
    sns.scatterplot(x=inset_x, y=sim[36:50], ax=ins, marker='x', s=12, color=orange,
                    linewidth=0.6, legend=False, clip_on=False, zorder=4)
    ins.set_xlim(0.368, 0.502)
    ins.set_ylim(*in_ylim)
    ins.set_xticks([0.4, 0.45, 0.5])
    ins.set_yticks(in_yticks)
    ins.xaxis.set_major_formatter(fmt)
    if letter == 'F':
        sf = ScalarFormatter(useMathText=True)
        sf.set_powerlimits((-3, -3))
        ins.yaxis.set_major_formatter(sf)
    else:
        ins.yaxis.set_major_formatter(fmt)
    style(ins, 5.8)
    ins.yaxis.get_offset_text().set_fontsize(5.8)
    ins.yaxis.get_offset_text().set_color('#262626')
    ins.set_xlabel('')
    ins.set_ylabel('')

    lx, ly = letter_pos[letter]
    fig.text(lx / W, 1 - ly / H, letter, fontsize=12, va='top', ha='left', color='black')

fig.savefig('out.png', dpi=100)
